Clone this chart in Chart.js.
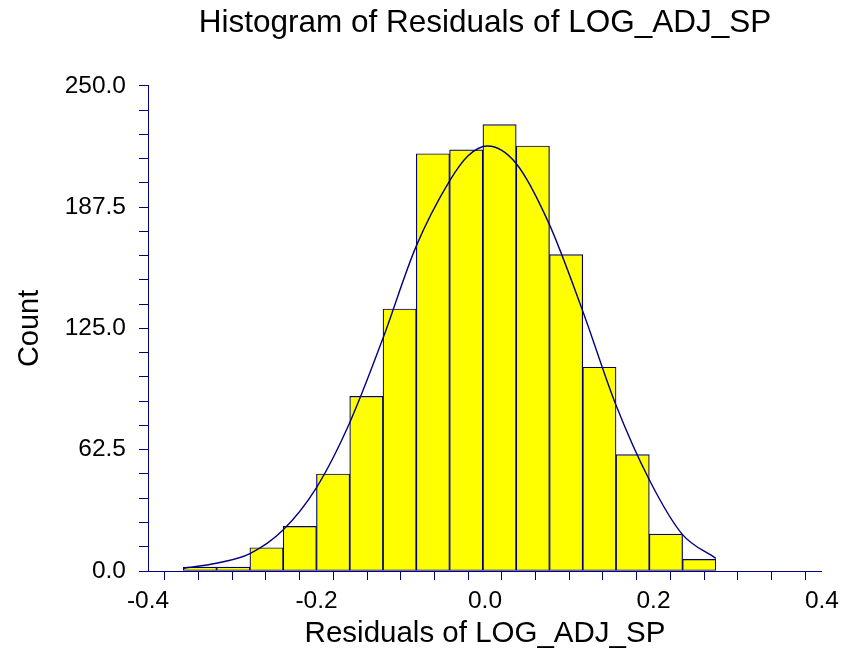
<!DOCTYPE html>
<html>
<head>
<meta charset="utf-8">
<script src="https://cdn.jsdelivr.net/npm/chart.js@4"></script>
<style>
    body { margin: 0; background: #ffffff; }
    canvas { display: block; }
</style>
</head>
<body>
<canvas id="chart" width="846" height="654"></canvas>
<script>

// histogram bins (centres) and counts
const binCenters = [-0.3383, -0.2988, -0.2593, -0.2198, -0.1803, -0.1408, -0.1013, -0.0618,
    -0.0223, 0.0173, 0.0568, 0.0963, 0.1358, 0.1753, 0.2148, 0.2543];
const counts = [2, 2, 12, 23, 50, 90, 135, 215, 217, 230, 219, 163, 105, 60, 19, 6];

// fitted normal curve
const curveX = [-0.358, -0.319, -0.279, -0.240, -0.200, -0.161, -0.121, -0.082, -0.042,
    -0.020, 0.003, 0.037, 0.076, 0.116, 0.155, 0.195, 0.234, 0.274];
const curveY = [1.4, 4, 9, 21, 43, 76, 120, 167, 201, 214, 219, 210, 179, 134, 86, 47, 19, 6.5];

const navy = '#000080';
const fontFamily = '"Liberation Sans", Arial, sans-serif';

let barData = [];
for (let i = 0; i < binCenters.length; i++) {
    barData.push({ 'x': binCenters[i], 'y': counts[i] });
}

let curveData = [];
for (let i = 0; i < curveX.length; i++) {
    curveData.push({ 'x': curveX[i], 'y': curveY[i] });
}

const plugin = {
    id: 'custom_canvas_background_color',
    beforeDraw: (chart) => {
        const ctx = chart.canvas.getContext('2d');
        ctx.save();
        ctx.globalCompositeOperation = 'destination-over';
        ctx.fillStyle = 'white';
        ctx.fillRect(0, 0, chart.width, chart.height);
        ctx.restore();
    },
};

const config = {
    type: 'bar',
    data: {
        datasets: [
            {
                type: 'line',
                label: 'Normal',
                data: curveData,
                borderColor: navy,
                borderWidth: 1.4,
                pointRadius: 0,
                fill: false,
                cubicInterpolationMode: 'monotone',
                order: 0
            },
            {
                label: 'Count',
                data: barData,
                backgroundColor: '#ffff00',
                borderColor: navy,
                borderWidth: 1.2,
                borderSkipped: false,
                barPercentage: 1,
                categoryPercentage: 1,
                order: 1
            }
        ]
    },
    options: {
        responsive: false,
        animation: false,
        layout: {
            padding: { left: 0, right: 23, top: 0, bottom: 0 }
        },
        plugins: {
            legend: { display: false },
            tooltip: { enabled: false },
            title: {
                display: true,
                fullSize: false,
                text: 'Histogram of Residuals of LOG_ADJ_SP',
                color: 'black',
                font: { family: fontFamily, size: 31.5, weight: 'normal' },
                padding: { top: 4, bottom: 44 }
            }
        },
        scales: {
            x: {
                type: 'linear',
                min: -0.4,
                max: 0.4,
                offset: false,
                afterFit: function (scale) { scale.height = 83; },
                ticks: {
                    stepSize: 0.04,
                    autoSkip: false,
                    maxRotation: 0,
                    minRotation: 0,
                    padding: 7,
                    color: 'black',
                    font: { family: fontFamily, size: 24.5 },
                    callback: function (value) {
                        if (Math.abs(Math.round(value * 100)) % 20 != 0) return '';
                        return (Math.round(value * 10) / 10).toFixed(1);
                    }
                },
                grid: {
                    drawOnChartArea: false,
                    drawTicks: true,
                    tickLength: 9,
                    color: navy
                },
                border: { display: true, color: navy, width: 1 },
                title: {
                    display: true,
                    text: 'Residuals of LOG_ADJ_SP',
                    color: 'black',
                    font: { family: fontFamily, size: 29.5 },
                    padding: { top: 0, bottom: 2 }
                }
            },
            y: {
                min: 0,
                max: 250,
                afterFit: function (scale) { scale.width = 148; },
                ticks: {
                    stepSize: 12.5,
                    autoSkip: false,
                    padding: 13,
                    color: 'black',
                    font: { family: fontFamily, size: 24.5 },
                    callback: function (value) {
                        if (Math.round(value * 10) % 625 != 0) return '';
                        return value.toFixed(1);
                    }
                },
                grid: {
                    drawOnChartArea: false,
                    drawTicks: true,
                    tickLength: 9,
                    color: navy
                },
                border: { display: true, color: navy, width: 1 },
                title: {
                    display: true,
                    text: 'Count',
                    color: 'black',
                    font: { family: fontFamily, size: 29 },
                    padding: { top: 13, bottom: 0 }
                }
            }
        }
    },
    plugins: [plugin]
};

let chart = new Chart(
    document.getElementById('chart'),
    config
);

</script>
</body>
</html>
